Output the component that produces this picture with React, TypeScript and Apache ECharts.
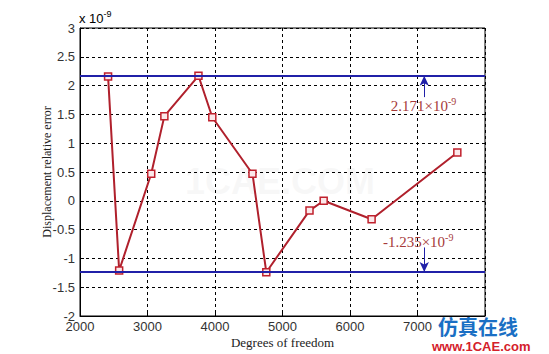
import React, { useEffect, useRef } from "react";
import * as echarts from "echarts";

const dof = [2416, 2580, 3055, 3250, 3755, 3960, 4555, 4760, 5400, 5610, 6320, 7590];
const errVals = [2.16, -1.21, 0.47, 1.47, 2.17, 1.45, 0.47, -1.24, -0.17, 0.0, -0.32, 0.84];
const bounds = [2.171, -1.235];
const arrowX = 7100;
const xTicks = [2000, 3000, 4000, 5000, 6000, 7000, 8000];
const yTicks = [-2, -1.5, -1, -0.5, 0, 0.5, 1, 1.5, 2, 2.5, 3];

export default function App() {
  const ref = useRef<HTMLDivElement>(null);
  useEffect(() => {
    const chart = echarts.init(ref.current!, null, { renderer: "svg" });
    const serif = "'Liberation Serif', 'Times New Roman', serif";
    const sans = "'Liberation Sans', Arial, sans-serif";
    const annColor = "#a63a3a";
    const blue = "#2020a8";
    const rich = {
      a: { fontFamily: serif, fontSize: 15, color: annColor },
      b: { fontFamily: serif, fontSize: 10, color: annColor, padding: [0, 0, 9, 0] },
    };
    chart.setOption({
      animation: false,
      backgroundColor: "#fff",
      grid: { left: 80, right: 64, top: 28, bottom: 37, show: true, borderColor: "#000", borderWidth: 1 },
      graphic: [
        {
          type: "text",
          left: 79,
          top: 9,
          style: {
            text: "{a|x 10}{b|-9}",
            rich: {
              a: { fontFamily: sans, fontSize: 13, color: "#333" },
              b: { fontFamily: sans, fontSize: 9, color: "#333", padding: [0, 0, 9, 0] },
            },
          },
        },
        {
          type: "text",
          left: 185,
          top: 163,
          style: { text: "1CAE.COM", fontFamily: sans, fontSize: 36, fontWeight: "bold", fill: "rgba(225,225,225,0.25)" },
        },
        {
          type: "text",
          left: 438,
          top: 316,
          style: { text: "仿真在线", fontFamily: "'Noto Sans CJK SC'", fontSize: 20, fontWeight: "bold", fill: "#1a6fc4" },
        },
        {
          type: "text",
          left: 432,
          top: 340,
          style: { text: "www.1CAE.com", fontFamily: sans, fontSize: 13, fontWeight: "bold", fill: "#d4202a" },
        },
      ],
      xAxis: {
        type: "value",
        min: xTicks[0],
        max: xTicks[xTicks.length - 1],
        interval: 1000,
        name: "Degrees of freedom",
        nameLocation: "middle",
        nameGap: 20,
        nameMoveOverlap: false,
        nameTextStyle: { fontFamily: serif, fontSize: 13, color: "#222" },
        axisLine: { show: true, onZero: false, lineStyle: { color: "#000" } },
        axisTick: { show: true, inside: true, length: 4, lineStyle: { color: "#000" } },
        axisLabel: {
          fontFamily: sans,
          fontSize: 13,
          color: "#333",
          margin: 4,
          formatter: (v: number) => (v === 8000 ? "" : String(v)),
        },
        splitLine: { show: true, lineStyle: { color: "#000", type: [3, 3], width: 1 } },
      },
      yAxis: {
        type: "value",
        min: yTicks[0],
        max: yTicks[yTicks.length - 1],
        interval: 0.5,
        name: "Displacement relative error",
        nameLocation: "middle",
        nameGap: 27,
        nameMoveOverlap: false,
        nameTextStyle: { fontFamily: serif, fontSize: 12, color: "#222" },
        axisLine: { show: true, onZero: false, lineStyle: { color: "#000" } },
        axisTick: { show: true, inside: true, length: 4, lineStyle: { color: "#000" } },
        axisLabel: { fontFamily: sans, fontSize: 13, color: "#333", margin: 5 },
        splitLine: { show: true, lineStyle: { color: "#000", type: [3, 3], width: 1 } },
      },
      series: [
        {
          type: "line",
          data: dof.map((d, i) => [d, errVals[i]]),
          symbol: "rect",
          symbolSize: 7,
          showSymbol: true,
          lineStyle: { color: "#b0202c", width: 2 },
          itemStyle: { color: "#fbe8ea", borderColor: "#c0202c", borderWidth: 1.5 },
          z: 3,
        },
        {
          type: "line",
          data: [],
          z: 2,
          markLine: {
            silent: true,
            symbol: ["none", "none"],
            label: { show: false },
            lineStyle: { color: blue, width: 2, type: "solid" },
            data: [{ yAxis: bounds[0] }, { yAxis: bounds[1] }],
          },
        },
        {
          type: "line",
          data: [],
          z: 4,
          markLine: {
            silent: true,
            symbol: ["none", "arrow"],
            symbolSize: [7, 10],
            label: { show: false },
            lineStyle: { color: blue, width: 1, type: "solid" },
            data: [
              [{ coord: [arrowX, 1.8] }, { coord: [arrowX, bounds[0]] }],
              [{ coord: [arrowX, -0.81] }, { coord: [arrowX, bounds[1]] }],
            ],
          },
          markPoint: {
            silent: true,
            symbol: "circle",
            symbolSize: 0,
            data: [
              {
                coord: [arrowX - 10, 1.65],
                label: { show: true, position: "inside", formatter: "{a|2.171×10}{b|-9}", rich },
              },
              {
                coord: [arrowX - 90, -0.71],
                label: { show: true, position: "inside", formatter: "{a|-1.235×10}{b|-9}", rich },
              },
            ],
          },
        },
      ],
    });
    return () => chart.dispose();
  }, []);
  return <div ref={ref} style={{ position: "fixed", left: 0, top: 0, width: 549, height: 354 }} />;
}
